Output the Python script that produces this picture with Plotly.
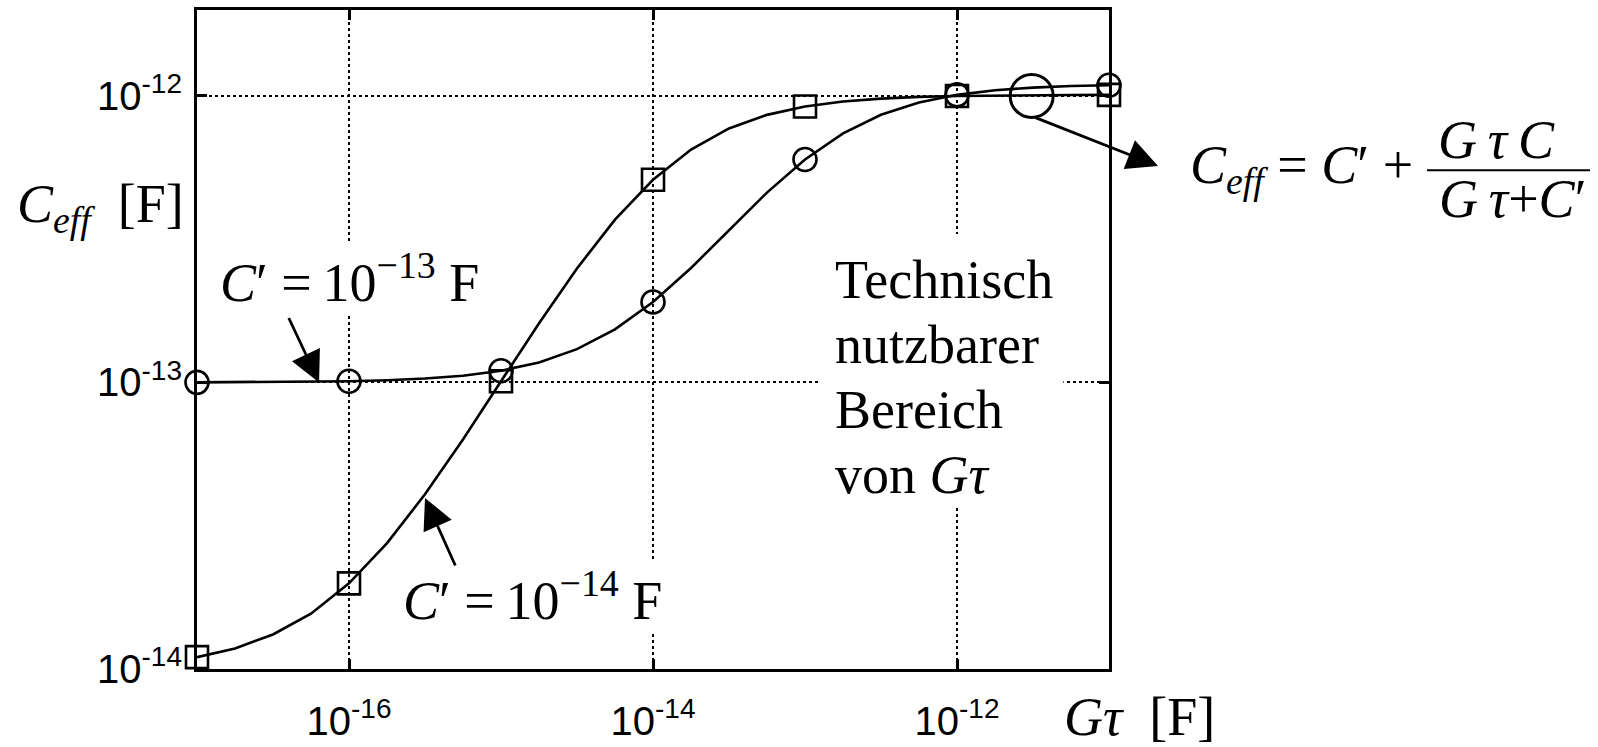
import plotly.graph_objects as go

# G*tau sample points [F] (quarter-decade steps)
gt = [1.00e-17, 1.78e-17, 3.16e-17, 5.62e-17,
      1.00e-16, 1.78e-16, 3.16e-16, 5.62e-16,
      1.00e-15, 1.78e-15, 3.16e-15, 5.62e-15,
      1.00e-14, 1.78e-14, 3.16e-14, 5.62e-14,
      1.00e-13, 1.78e-13, 3.16e-13, 5.62e-13,
      1.00e-12, 1.78e-12, 3.16e-12, 5.62e-12,
      1.00e-11]

# effective capacitance for C' = 1e-13 F (circles)
c_eff_13 = [1.001e-13, 1.002e-13, 1.003e-13, 1.006e-13,
            1.010e-13, 1.018e-13, 1.032e-13, 1.056e-13,
            1.099e-13, 1.175e-13, 1.307e-13, 1.532e-13,
            1.909e-13, 2.51e-13, 3.40e-13, 4.60e-13,
            6.00e-13, 7.40e-13, 8.60e-13, 9.49e-13,
            1.009e-12, 1.047e-12, 1.069e-12, 1.083e-12,
            1.090e-12]

# effective capacitance for C' = 1e-14 F (squares)
c_eff_14 = [1.10e-14, 1.18e-14, 1.32e-14, 1.56e-14,
            1.99e-14, 2.75e-14, 4.07e-14, 6.32e-14,
            1.01e-13, 1.61e-13, 2.50e-13, 3.70e-13,
            5.10e-13, 6.50e-13, 7.70e-13, 8.59e-13,
            9.19e-13, 9.57e-13, 9.79e-13, 9.93e-13,
            1.000e-12, 1.004e-12, 1.007e-12, 1.008e-12,
            1.009e-12]

# highlighted operating point
big_gt = [3.1e-12]
big_c = [1.0e-12]

x_tick_vals = [1e-16, 1e-14, 1e-12]
x_tick_text = ["10<sup>-16</sup>", "10<sup>-14</sup>", "10<sup>-12</sup>"]
y_tick_vals = [1e-14, 1e-13, 1e-12]
y_tick_text = ["10<sup>-14</sup>", "10<sup>-13</sup>", "10<sup>-12</sup>"]

range_lines = ["Technisch", "nutzbarer", "Bereich", "von <i>G\u03c4</i>"]

SERIF = "Liberation Serif"
SANS = "Liberation Sans"
LW = 2.6
NB = "\u00a0"

fig = go.Figure()

# curves
fig.add_trace(go.Scatter(x=gt, y=c_eff_14, mode="lines",
                         line=dict(color="black", width=LW), showlegend=False))
fig.add_trace(go.Scatter(x=gt, y=c_eff_13, mode="lines",
                         line=dict(color="black", width=LW), showlegend=False))

# markers at every decade
fig.add_trace(go.Scatter(x=gt[::4], y=c_eff_14[::4], mode="markers", cliponaxis=False,
                         marker=dict(symbol="square-open", size=22, color="black",
                                     line=dict(width=2.6)),
                         showlegend=False))
fig.add_trace(go.Scatter(x=gt[::4], y=c_eff_13[::4], mode="markers", cliponaxis=False,
                         marker=dict(symbol="circle-open", size=23, color="black",
                                     line=dict(width=2.6)),
                         showlegend=False))
fig.add_trace(go.Scatter(x=big_gt, y=big_c, mode="markers", cliponaxis=False,
                         marker=dict(symbol="circle-open", size=43, color="black",
                                     line=dict(width=3)),
                         showlegend=False))

serif_font = dict(family=SERIF, size=54, color="black")

annotations = [
    # y-axis title
    dict(xref="paper", yref="paper", x=-0.2, y=0.700, xanchor="left", yanchor="middle",
         text="<i>C<sub>eff</sub></i>" + NB + NB + "[F]", showarrow=False, font=serif_font),
    # x-axis title
    dict(xref="paper", yref="paper", x=0.9485, y=-0.073, xanchor="left", yanchor="middle",
         text="<i>G\u03c4</i>" + NB + NB + "[F]", showarrow=False, font=serif_font),
    # curve labels
    dict(xref="paper", yref="paper", x=0.0230, y=0.592, xanchor="left", yanchor="middle",
         text="<i>C</i>\u2032" + NB + "=\u200910<sup>\u221213</sup>" + NB + "F",
         showarrow=False, font=serif_font, bgcolor="white"),
    dict(xref="paper", yref="paper", x=0.2240, y=0.110, xanchor="left", yanchor="middle",
         text="<i>C</i>\u2032" + NB + "=\u200910<sup>\u221214</sup>" + NB + "F",
         showarrow=False, font=serif_font, bgcolor="white"),
    # formula
    dict(xref="paper", yref="paper", x=1.087, y=0.760, xanchor="left", yanchor="middle",
         text="<i>C<sub>eff</sub></i> = <i>C</i>\u2032 +", showarrow=False,
         font=serif_font),
    dict(xref="paper", yref="paper", x=1.4250, y=0.803, xanchor="center", yanchor="middle",
         text="<i>G\u2009\u03c4\u2009C</i>", showarrow=False, font=serif_font),
    dict(xref="paper", yref="paper", x=1.4420, y=0.713, xanchor="center", yanchor="middle",
         text="<i>G\u2009\u03c4</i>+<i>C</i>\u2032", showarrow=False, font=serif_font),
    # arrows
    dict(xref="x", yref="y", x=-16.197, y=-13.0, ax=-31, ay=-66, axref="pixel", ayref="pixel",
         showarrow=True, arrowhead=2, arrowsize=2.2, arrowwidth=2.8, arrowcolor="black", text=""),
    dict(xref="x", yref="y", x=-15.50, y=-13.403, ax=31, ay=69, axref="pixel", ayref="pixel",
         showarrow=True, arrowhead=2, arrowsize=2.2, arrowwidth=2.8, arrowcolor="black", text=""),
    dict(xref="paper", yref="paper", x=1.0537, y=0.7633, ax=-124, ay=-49,
         showarrow=True, arrowhead=2, arrowsize=2.2, arrowwidth=2.8, arrowcolor="black", text=""),
]

# usable-range note, one annotation per line for tight line spacing
for i, line in enumerate(range_lines):
    annotations.append(dict(xref="paper", yref="paper", x=0.6975, y=0.590 - i * 0.0985,
                            xanchor="left", yanchor="middle", align="left", text=line,
                            showarrow=False, font=serif_font))

shapes = [
    # fraction bar
    dict(type="line", xref="paper", yref="paper", x0=1.3487, x1=1.5274, y0=0.757, y1=0.757,
         line=dict(color="black", width=2)),
    # blank backdrop behind the usable-range note
    dict(type="rect", xref="paper", yref="paper", layer="above",
         x0=0.682, x1=0.950, y0=0.248, y1=0.660,
         fillcolor="white", line=dict(width=0)),
]

axis_common = dict(
    type="log", automargin=False,
    showline=True, linecolor="black", linewidth=3, mirror="ticks",
    ticks="inside", ticklen=10, tickwidth=3, tickcolor="black",
    showgrid=True, gridcolor="black", gridwidth=2, griddash="dot",
    tickfont=dict(family=SANS, size=40, color="black"),
    zeroline=False,
)

fig.update_layout(
    width=1598, height=747,
    margin=dict(l=197, r=489, t=10, b=78, autoexpand=False),
    paper_bgcolor="white", plot_bgcolor="white",
    showlegend=False,
    xaxis=dict(axis_common, range=[-17, -11], tickmode="array",
               tickvals=x_tick_vals, ticktext=x_tick_text, ticklabelstandoff=15),
    yaxis=dict(axis_common, range=[-14, -11.70], tickmode="array",
               tickvals=y_tick_vals, ticktext=y_tick_text, ticklabelstandoff=4),
    annotations=annotations,
    shapes=shapes,
)

fig.write_html("out.html")
